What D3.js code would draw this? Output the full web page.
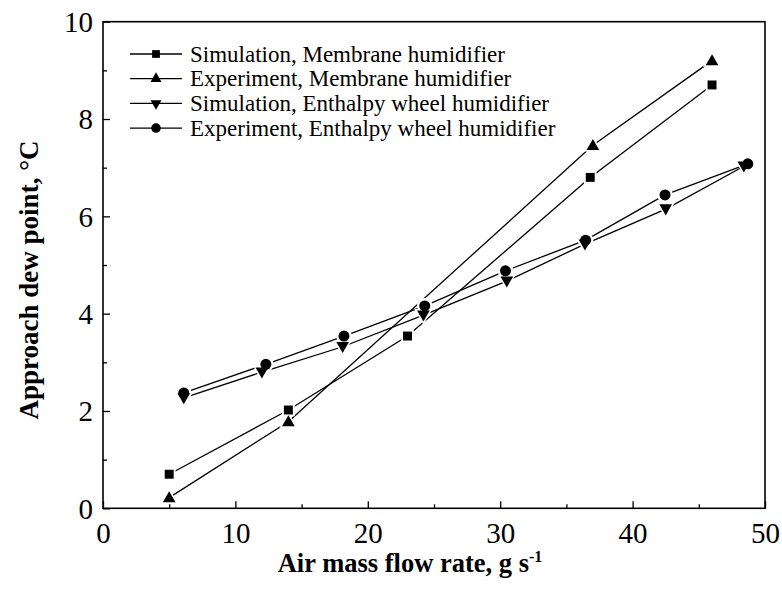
<!DOCTYPE html>
<html><head><meta charset="utf-8">
<script src="https://cdn.jsdelivr.net/npm/d3@7"></script>
<style>
html,body{margin:0;padding:0;background:#fff;}
svg{display:block;}
text{font-family:"Liberation Serif","Times New Roman",serif;fill:#000;}
</style></head>
<body>
<svg id="chart" width="782" height="599"></svg>
<script>
// ---- data ----
const seriesNames = [
  "Simulation, Membrane humidifier",
  "Experiment, Membrane humidifier",
  "Simulation, Enthalpy wheel humidifier",
  "Experiment, Enthalpy wheel humidifier"
];
const seriesSymbols = ["square", "triangle", "triangleDown", "circle"];

const simMemX = [5, 14, 23, 36.8, 46];
const simMemY = [0.70, 2.02, 3.54, 6.80, 8.70];

const expMemX = [5, 14, 37, 46];
const expMemY = [0.22, 1.78, 7.46, 9.20];

const simEntX = [6.1, 12.0, 18.1, 24.2, 30.5, 36.4, 42.5, 48.4];
const simEntY = [2.27, 2.80, 3.32, 3.97, 4.67, 5.43, 6.15, 7.03];

const expEntX = [6.1, 12.3, 18.2, 24.3, 30.4, 36.45, 42.45, 48.7];
const expEntY = [2.37, 2.96, 3.54, 4.16, 4.88, 5.51, 6.44, 7.08];

const xTicks = [0, 10, 20, 30, 40, 50];
const xMinorTicks = [5, 15, 25, 35, 45];
const yTicks = [0, 2, 4, 6, 8, 10];
const yMinorTicks = [1, 3, 5, 7, 9];

const xTitle = "Air mass flow rate, g s";
const xTitleSup = "-1";
const yTitle = "Approach dew point, \u00B0C";

// ---- layout ----
const svg = d3.select("#chart");
const L = 103, R = 765, T = 21.7, B = 508.3;
const x = d3.scaleLinear().domain([0, 50]).range([L, R]);
const y = d3.scaleLinear().domain([0, 10]).range([B, T]);

const series = [
  {xs: simMemX, ys: simMemY},
  {xs: expMemX, ys: expMemY},
  {xs: simEntX, ys: simEntY},
  {xs: expEntX, ys: expEntY}
].map((s, i) => ({name: seriesNames[i], sym: seriesSymbols[i], pts: s.xs.map((v, j) => [v, s.ys[j]])}));

// axes (ticks inward)
const gx = svg.append("g").attr("transform", `translate(0,${B})`)
  .call(d3.axisBottom(x).tickValues(xTicks).tickSize(-7).tickPadding(14).tickFormat(d3.format("d")));
const gxm = svg.append("g").attr("transform", `translate(0,${B})`)
  .call(d3.axisBottom(x).tickValues(xMinorTicks).tickSize(-4).tickFormat(""));
const gy = svg.append("g").attr("transform", `translate(${L},0)`)
  .call(d3.axisLeft(y).tickValues(yTicks).tickSize(-7).tickPadding(10).tickFormat(d3.format("d")));
const gym = svg.append("g").attr("transform", `translate(${L},0)`)
  .call(d3.axisLeft(y).tickValues(yMinorTicks).tickSize(-4).tickFormat(""));
[gx, gxm, gy, gym].forEach(g => {
  g.select(".domain").remove();
  g.selectAll(".tick line").attr("stroke", "#000").attr("stroke-width", 1.3);
  g.selectAll("text").style("font-size", "29px").style("font-family", "'Liberation Serif', serif").attr("fill", "#000");
});
gy.selectAll("text").attr("dy", "0.34em");
gx.selectAll("text").attr("dy", "0.71em");

// frame
svg.append("rect").attr("x", L).attr("y", T).attr("width", R - L).attr("height", B - T)
  .attr("fill", "none").attr("stroke", "#000").attr("stroke-width", 1.6);

// symbols
const symType = {square: d3.symbolSquare, triangle: d3.symbolTriangle, triangleDown: d3.symbolTriangle, circle: d3.symbolCircle};
const symSize = {square: 80, triangle: 70, triangleDown: 70, circle: 95};
function symPath(s, scale) {
  return d3.symbol().type(symType[s]).size(symSize[s] * (scale || 1))();
}
function symRot(s) { return s === "triangleDown" ? " rotate(180)" : ""; }
function symOff(s) { return s === "triangle" ? 1 : s === "triangleDown" ? -1 : 0; }

const line = d3.line().x(d => x(d[0])).y(d => y(d[1]));
const plot = svg.append("g");
series.forEach(s => {
  plot.append("path").attr("d", line(s.pts)).attr("fill", "none").attr("stroke", "#000").attr("stroke-width", 1.3);
});
series.forEach(s => {
  plot.selectAll(null).data(s.pts).enter().append("path")
    .attr("d", symPath(s.sym, 2.0))
    .attr("transform", d => `translate(${x(d[0])},${y(d[1]) + symOff(s.sym)})${symRot(s.sym)}`)
    .attr("fill", "#fff");
});
series.forEach(s => {
  plot.selectAll(null).data(s.pts).enter().append("path")
    .attr("d", symPath(s.sym))
    .attr("transform", d => `translate(${x(d[0])},${y(d[1]) + symOff(s.sym)})${symRot(s.sym)}`)
    .attr("fill", "#000");
});

// legend
const leg = svg.append("g");
series.forEach((s, i) => {
  const cy = 54 + i * 24.7;
  leg.append("line").attr("x1", 130).attr("x2", 182).attr("y1", cy).attr("y2", cy)
    .attr("stroke", "#000").attr("stroke-width", 1.3);
  leg.append("path").attr("d", symPath(s.sym, 0.75))
    .attr("transform", `translate(156,${cy})${symRot(s.sym)}`).attr("fill", "#000");
  leg.append("text").attr("x", 190).attr("y", cy + 7.5).style("font-size", "23px").text(s.name);
});

// axis titles
const xt = svg.append("text").attr("x", 410).attr("y", 572).attr("text-anchor", "middle")
  .style("font-size", "26.5px").style("font-weight", "bold");
xt.append("tspan").text(xTitle);
xt.append("tspan").attr("dy", -10).style("font-size", "16px").text(xTitleSup);

svg.append("text").attr("transform", `translate(38,${(T + B) / 2 + 15}) rotate(-90)`)
  .attr("text-anchor", "middle").style("font-size", "27px").style("font-weight", "bold").text(yTitle);
</script>
</body></html>
